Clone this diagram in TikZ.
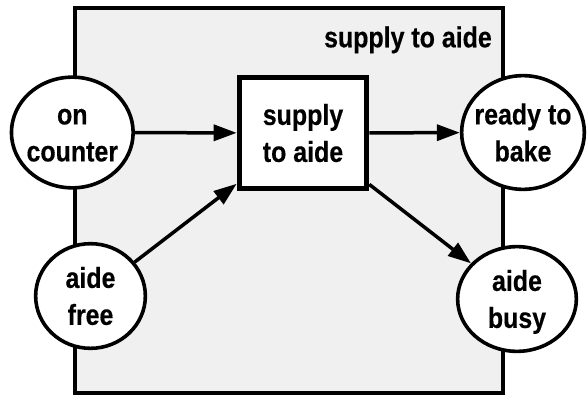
\documentclass[tikz,border=0pt]{standalone}
\usepackage{fontspec}
\setmainfont{Liberation Sans}[FakeStretch=0.86,BoldFeatures={FakeBold=0.4}]
\usetikzlibrary{arrows.meta,shapes.geometric}
\definecolor{panelgray}{HTML}{F0F0F0}
% two centred lines, shifted slightly down inside their shape
\newcommand\stackedtext[2]{\makebox[0pt]{\raisebox{-3pt}[\height][\depth]{\begin{tabular}{@{}c@{}}#1\\#2\end{tabular}}}}
\begin{document}
\begin{tikzpicture}[x=1pt,y=-1pt,
  every node/.style={font=\fontsize{29}{37}\selectfont\bfseries},
  place/.style={ellipse,draw,line width=3.6pt,fill=white,inner sep=0pt},
  transition/.style={rectangle,draw,line width=5pt,fill=white,inner sep=0pt,
    minimum width=127.6pt,minimum height=110.7pt},
  arr/.style={line width=3.5pt,-{Triangle[length=23pt,width=16pt]}}]
  \useasboundingbox (0,0) rectangle (587,399);
  % enclosing panel
  \node[draw,line width=4.7pt,fill=panelgray,rectangle,inner sep=0pt,
    minimum width=428pt,minimum height=385pt] (panel) at (289,200.5) {};
  \node[anchor=base east,inner sep=0pt] (title) at (492,47.3) {supply to aide};
  % places and transition
  \node[place,minimum width=121.7pt,minimum height=110.7pt] (oc) at (72.3,132.5) {\stackedtext{on}{counter}};
  \node[place,minimum width=109.7pt,minimum height=100.7pt] (af) at (90.5,296) {\stackedtext{aide}{free}};
  \node[place,minimum width=122.7pt,minimum height=113.7pt] (rb) at (523,132.5) {\stackedtext{ready to}{bake}};
  \node[place,minimum width=118.7pt,minimum height=104.7pt] (ab) at (517,299) {\stackedtext{aide}{busy}};
  \node[transition] (tr) at (303,133) {\stackedtext{supply}{to aide}};
  % arcs
  \draw[arr] (oc) -- (tr);
  \draw[arr] (af) -- (tr);
  \draw[arr] (tr) -- (rb);
  \draw[arr] (tr) -- (ab);
\end{tikzpicture}
\end{document}
